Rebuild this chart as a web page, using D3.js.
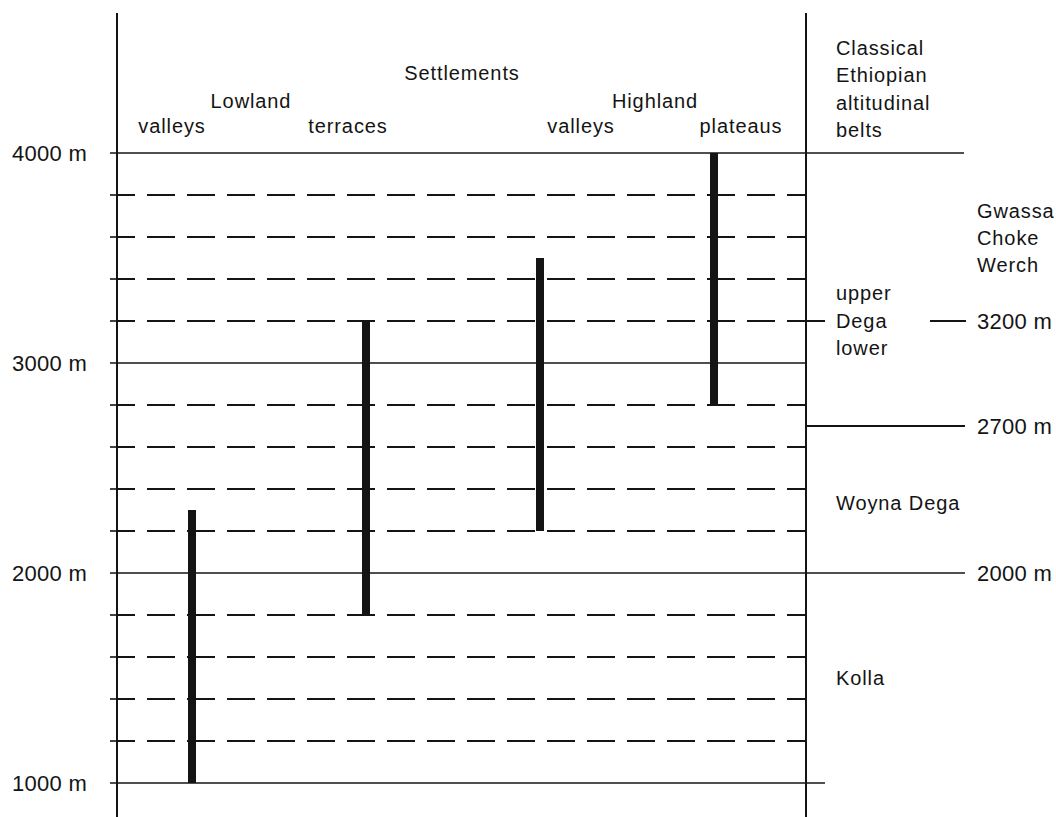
<!DOCTYPE html>
<html><head><meta charset="utf-8">
<script src="https://cdn.jsdelivr.net/npm/d3@7"></script>
<style>body{margin:0;background:#fff}svg{display:block}text{font-family:"Liberation Sans",Arial,sans-serif;fill:#141414}</style>
</head><body><svg id="c" width="1056" height="817"></svg>
<script>
const altitudeTicks = [1000, 2000, 3000, 4000];
const dashedLevels = [1200, 1400, 1600, 1800, 2200, 2400, 2600, 2800, 3200, 3400, 3600, 3800];
const settlementTypes = ["valleys", "terraces", "valleys", "plateaus"];
const settlementGroups = ["Lowland", "Highland"];
const rangeLow = [1000, 1800, 2200, 2800];
const rangeHigh = [2300, 3200, 3500, 4000];
const beltBoundaries = [2000, 2700, 3200];
const beltNames = ["Kolla", "Woyna Dega", "Dega", "Gwassa Choke Werch"];

const svg = d3.select("#c");
const ink = "#141414";
const y = d3.scaleLinear().domain([1000, 4000]).range([783, 153]);
const x = d3.scalePoint().domain(d3.range(settlementTypes.length)).range([192, 714]);
const leftX = 117, rightX = 806;
const fs = 20, ls = 0.9, nfs = 22;

// axis verticals
svg.append("line").attr("x1", leftX).attr("x2", leftX).attr("y1", 13).attr("y2", 817).attr("stroke", ink).attr("stroke-width", 2);
svg.append("line").attr("x1", rightX).attr("x2", rightX).attr("y1", 13).attr("y2", 817).attr("stroke", ink).attr("stroke-width", 2);

// dashed levels
svg.selectAll("line.dash").data(dashedLevels).join("line").attr("class", "dash")
  .attr("x1", leftX).attr("x2", rightX).attr("y1", d => y(d)).attr("y2", d => y(d))
  .attr("stroke", ink).attr("stroke-width", 1.8).attr("stroke-dasharray", "28,12").attr("stroke-dashoffset", 10);
svg.selectAll("line.dtick").data(dashedLevels).join("line").attr("class", "dtick")
  .attr("x1", 110).attr("x2", leftX + 4).attr("y1", d => y(d)).attr("y2", d => y(d))
  .attr("stroke", ink).attr("stroke-width", 1.6);

// solid levels
const solidEnd = {1000: 825, 2000: 965, 3000: rightX, 4000: 964};
svg.selectAll("line.solid").data(altitudeTicks).join("line").attr("class", "solid")
  .attr("x1", 110).attr("x2", d => solidEnd[d]).attr("y1", d => y(d)).attr("y2", d => y(d))
  .attr("stroke", ink).attr("stroke-width", 1.6);

// y labels
svg.selectAll("text.ylab").data(altitudeTicks).join("text").attr("class", "ylab")
  .attr("x", 12).attr("y", d => y(d) + 8).attr("font-size", nfs).attr("letter-spacing", 0.3).text(d => d + " m");

// bars
svg.selectAll("rect.bar").data(settlementTypes).join("rect").attr("class", "bar")
  .attr("x", (d, i) => x(i) - 4).attr("width", 8)
  .attr("y", (d, i) => y(rangeHigh[i])).attr("height", (d, i) => y(rangeLow[i]) - y(rangeHigh[i]))
  .attr("fill", ink);

// header texts
svg.append("text").attr("x", 462).attr("y", 80).attr("text-anchor", "middle").attr("font-size", fs).attr("letter-spacing", ls).text("Settlements");
const groupX = [251, 655];
svg.selectAll("text.grp").data(settlementGroups).join("text").attr("class", "grp")
  .attr("x", (d, i) => groupX[i]).attr("y", 108).attr("text-anchor", "middle").attr("font-size", fs).attr("letter-spacing", ls).text(d => d);
const labelOffset = [-20, -18, 41, 27];
svg.selectAll("text.stype").data(settlementTypes).join("text").attr("class", "stype")
  .attr("x", (d, i) => x(i) + labelOffset[i]).attr("y", 133).attr("text-anchor", "middle").attr("font-size", fs).attr("letter-spacing", ls).text(d => d);

// right column header
["Classical", "Ethiopian", "altitudinal", "belts"].forEach((t, i) => {
  svg.append("text").attr("x", 836).attr("y", 55 + i * 27.3).attr("font-size", fs).attr("letter-spacing", ls).text(t);
});

// belt boundaries
svg.append("line").attr("x1", rightX).attr("x2", 965).attr("y1", y(2700)).attr("y2", y(2700)).attr("stroke", ink).attr("stroke-width", 2);
svg.append("line").attr("x1", rightX).attr("x2", 825).attr("y1", y(3200)).attr("y2", y(3200)).attr("stroke", ink).attr("stroke-width", 2);
svg.append("line").attr("x1", 930).attr("x2", 966).attr("y1", y(3200)).attr("y2", y(3200)).attr("stroke", ink).attr("stroke-width", 2);
svg.selectAll("text.blab").data(beltBoundaries).join("text").attr("class", "blab")
  .attr("x", 977).attr("y", d => y(d) + 8).attr("font-size", nfs).attr("letter-spacing", 0.3).text(d => d + " m");

// belt names
svg.append("text").attr("x", 836).attr("y", 685).attr("font-size", fs).attr("letter-spacing", ls).text(beltNames[0]);
svg.append("text").attr("x", 836).attr("y", 510).attr("font-size", fs).attr("letter-spacing", ls).text(beltNames[1]);
[["upper", 300], [beltNames[2], 328], ["lower", 355]].forEach(([t, yy]) => {
  svg.append("text").attr("x", 836).attr("y", yy).attr("font-size", fs).attr("letter-spacing", ls).text(t);
});
beltNames[3].split(" ").forEach((t, i) => {
  svg.append("text").attr("x", 977).attr("y", 218 + i * 27).attr("font-size", fs).attr("letter-spacing", ls).text(t);
});
</script></body></html>
